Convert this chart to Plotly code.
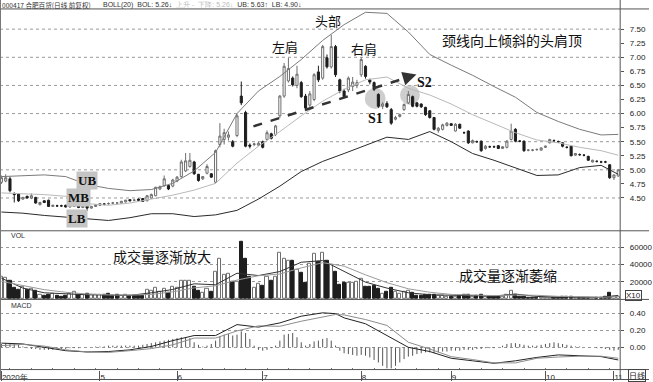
import plotly.graph_objects as go

W, H = 653, 382

# ---------------- data ----------------
MONTH_IDX = [0, 23, 41, 61, 84, 105, 127, 143]
MONTH_LABELS = ["2020年", "5", "6", "7", "8", "9", "10", "11"]

OPEN = [4.78, 4.80, 4.84, 4.58, 4.57, 4.48, 4.53, 4.50, 4.51, 4.38,
        4.45, 4.46, 4.35, 4.36, 4.36, 4.37, 4.34, 4.35, 4.40, 4.33,
        4.38, 4.32, 4.35, 4.37, 4.39, 4.40, 4.41, 4.41, 4.41, 4.43,
        4.47, 4.46, 4.48, 4.49, 4.45, 4.50, 4.54, 4.66, 4.72, 4.72,
        4.71, 4.80, 4.88, 4.98, 5.06, 5.14, 4.92, 4.84, 4.94, 4.93,
        4.78, 5.45, 5.54, 5.58, 5.50, 5.61, 6.31, 6.02, 5.44, 5.45,
        5.44, 5.50, 5.54, 5.64, 5.63, 5.96, 6.31, 6.58, 6.63, 6.50,
        6.55, 6.31, 6.15, 6.25, 6.74, 6.63, 6.99, 6.83, 7.19, 6.60,
        6.40, 6.42, 6.48, 6.50, 6.69, 6.84, 6.60, 6.55, 6.34, 6.13,
        6.18, 6.07, 5.90, 5.95, 6.07, 6.19, 6.30, 6.19, 6.17, 6.11,
        6.05, 5.93, 5.70, 5.72, 5.79, 5.82, 5.69, 5.81, 5.66, 5.69,
        5.48, 5.50, 5.51, 5.38, 5.41, 5.41, 5.43, 5.38, 5.40, 5.54,
        5.72, 5.51, 5.51, 5.35, 5.35, 5.36, 5.35, 5.40, 5.48, 5.52,
        5.50, 5.48, 5.40, 5.42, 5.26, 5.27, 5.26, 5.24, 5.14, 5.15,
        5.14, 5.14, 5.09, 4.86, 4.89]
HIGH = [4.90, 4.92, 4.88, 4.60, 4.58, 4.52, 4.54, 4.58, 4.52, 4.43,
        4.46, 4.47, 4.38, 4.38, 4.38, 4.38, 4.40, 4.41, 4.41, 4.38,
        4.39, 4.36, 4.39, 4.41, 4.41, 4.42, 4.43, 4.43, 4.45, 4.47,
        4.48, 4.48, 4.49, 4.50, 4.55, 4.58, 4.70, 4.72, 4.90, 4.73,
        4.84, 4.89, 5.18, 5.30, 5.30, 5.16, 4.93, 4.89, 5.10, 4.94,
        5.36, 5.83, 5.73, 5.68, 5.53, 6.00, 6.57, 6.05, 5.47, 5.48,
        5.50, 5.52, 5.70, 5.66, 5.80, 6.33, 6.90, 6.99, 6.66, 6.85,
        6.58, 6.35, 6.40, 6.72, 6.85, 7.22, 7.05, 7.40, 7.22, 6.62,
        6.44, 6.66, 6.65, 6.60, 7.00, 6.86, 6.62, 6.57, 6.36, 6.20,
        6.22, 6.10, 5.96, 6.00, 6.18, 6.40, 6.32, 6.20, 6.18, 6.12,
        6.06, 5.94, 5.76, 5.82, 5.85, 5.83, 5.83, 5.82, 5.68, 5.70,
        5.54, 5.52, 5.52, 5.44, 5.43, 5.43, 5.44, 5.42, 5.53, 5.82,
        5.74, 5.53, 5.52, 5.37, 5.37, 5.38, 5.40, 5.43, 5.55, 5.54,
        5.52, 5.49, 5.42, 5.43, 5.30, 5.29, 5.28, 5.25, 5.18, 5.17,
        5.16, 5.16, 5.10, 4.92, 5.01]
LOW = [4.75, 4.78, 4.60, 4.42, 4.43, 4.47, 4.49, 4.48, 4.40, 4.37,
       4.41, 4.34, 4.34, 4.34, 4.34, 4.33, 4.33, 4.34, 4.32, 4.32,
       4.27, 4.31, 4.34, 4.36, 4.37, 4.38, 4.39, 4.39, 4.40, 4.42,
       4.44, 4.44, 4.45, 4.43, 4.44, 4.49, 4.53, 4.64, 4.70, 4.64,
       4.69, 4.78, 4.86, 4.96, 5.04, 4.91, 4.79, 4.82, 4.92, 4.86,
       4.76, 5.40, 5.45, 5.52, 5.40, 5.58, 6.15, 5.40, 5.38, 5.42,
       5.42, 5.38, 5.52, 5.54, 5.60, 5.92, 6.28, 6.55, 6.48, 6.45,
       6.28, 6.08, 6.12, 6.22, 6.56, 6.60, 6.80, 6.80, 6.65, 6.36,
       6.27, 6.38, 6.40, 6.45, 6.65, 6.62, 6.52, 6.40, 6.10, 6.08,
       6.10, 5.80, 5.88, 5.93, 6.05, 6.17, 6.11, 6.11, 6.10, 5.96,
       5.91, 5.70, 5.66, 5.70, 5.77, 5.78, 5.68, 5.73, 5.64, 5.46,
       5.47, 5.48, 5.32, 5.36, 5.39, 5.39, 5.37, 5.37, 5.38, 5.52,
       5.49, 5.49, 5.32, 5.33, 5.33, 5.34, 5.34, 5.39, 5.47, 5.50,
       5.48, 5.40, 5.38, 5.24, 5.25, 5.25, 5.24, 5.16, 5.13, 5.13,
       5.12, 5.12, 4.84, 4.82, 4.88]
CLOSE = [4.86, 4.86, 4.63, 4.56, 4.45, 4.51, 4.50, 4.54, 4.41, 4.42,
         4.42, 4.35, 4.37, 4.36, 4.36, 4.34, 4.39, 4.40, 4.33, 4.37,
         4.32, 4.35, 4.38, 4.40, 4.39, 4.40, 4.41, 4.41, 4.44, 4.46,
         4.45, 4.46, 4.46, 4.44, 4.54, 4.56, 4.69, 4.70, 4.84, 4.66,
         4.82, 4.87, 5.14, 5.16, 5.17, 4.93, 4.81, 4.88, 5.06, 4.87,
         5.34, 5.60, 5.66, 5.62, 5.42, 5.96, 6.19, 5.42, 5.42, 5.46,
         5.47, 5.40, 5.66, 5.56, 5.78, 6.31, 6.84, 6.80, 6.51, 6.70,
         6.30, 6.10, 6.35, 6.69, 6.60, 7.19, 6.83, 7.19, 6.69, 6.40,
         6.30, 6.63, 6.56, 6.55, 6.96, 6.66, 6.56, 6.43, 6.13, 6.17,
         6.12, 5.83, 5.93, 5.98, 6.16, 6.34, 6.13, 6.13, 6.12, 5.98,
         5.93, 5.72, 5.74, 5.80, 5.83, 5.79, 5.81, 5.74, 5.66, 5.48,
         5.52, 5.50, 5.34, 5.42, 5.41, 5.41, 5.38, 5.41, 5.51, 5.69,
         5.51, 5.51, 5.34, 5.35, 5.35, 5.36, 5.39, 5.42, 5.54, 5.52,
         5.50, 5.42, 5.40, 5.25, 5.29, 5.27, 5.26, 5.17, 5.17, 5.15,
         5.14, 5.14, 4.86, 4.91, 5.00]
VOLUME = [25300, 24200, 21500, 13100, 10900, 13900, 11200, 12000, 9300, 5100,
          3600, 5500, 5900, 4400, 3200, 3600, 5900, 8600, 4800, 5100,
          5900, 5100, 5100, 5100, 5100, 5900, 4400, 5100, 4400, 5500,
          3600, 3600, 3600, 3600, 10900, 10100, 12800, 9000, 12000, 7400,
          14700, 12800, 20800, 20800, 21500, 13900, 9300, 7000, 12000, 9000,
          31000, 46300, 28400, 29100, 20400, 19600, 66500, 46300, 25300, 12800,
          17700, 15800, 25300, 21500, 25300, 53100, 47000, 44400, 44400, 34100,
          30300, 18500, 41300, 52000, 42500, 53100, 44400, 39400, 31800, 16600,
          18500, 18500, 18500, 20400, 23400, 14700, 13900, 15000, 12000, 6300,
          8200, 13100, 8200, 6300, 8200, 10100, 7000, 3600, 3600, 5100,
          5100, 5500, 4400, 4400, 3200, 2500, 3200, 4400, 5500, 5500,
          3200, 3600, 5100, 3200, 2500, 2900, 2500, 3200, 5100, 10100,
          5500, 3200, 3200, 2100, 2100, 1700, 2100, 1700, 2100, 1700,
          2100, 2500, 2500, 2500, 1700, 1700, 1300, 1700, 1300, 1300,
          1700, 2500, 7000, 3200, 3200]
MACD_HIST = [0.04, 0.05, 0.05, 0.04, 0.03, 0.01, -0.01, -0.02, -0.02, -0.03,
             -0.03, -0.03, -0.03, -0.02, -0.02, -0.02, -0.01, -0.01, -0.01, 0.00,
             0.00, 0.00, 0.01, 0.01, 0.01, 0.02, 0.02, 0.02, 0.02, 0.02,
             0.02, 0.02, 0.02, 0.03, 0.04, 0.05, 0.06, 0.07, 0.08, 0.09,
             0.10, 0.11, 0.12, 0.12, 0.11, 0.06, 0.03, 0.01, 0.02, 0.04,
             0.08, 0.13, 0.15, 0.16, 0.14, 0.15, 0.19, 0.17, 0.10, 0.02,
             -0.03, -0.04, -0.03, -0.01, 0.02, 0.08, 0.15, 0.16, 0.17, 0.12,
             0.06, 0.02, 0.04, 0.07, 0.08, 0.10, 0.11, 0.08, 0.02, -0.04,
             -0.07, -0.08, -0.09, -0.10, -0.09, -0.10, -0.12, -0.15, -0.18, -0.22,
             -0.25, -0.25, -0.22, -0.18, -0.14, -0.11, -0.10, -0.08, -0.07, -0.06,
             -0.06, -0.07, -0.06, -0.05, -0.05, -0.04, -0.04, -0.04, -0.03, -0.03,
             -0.03, -0.02, -0.02, -0.01, -0.01, -0.01, 0.00, 0.02, 0.04, 0.05,
             0.05, 0.04, 0.03, 0.02, 0.02, 0.02, 0.03, 0.04, 0.05, 0.06,
             0.05, 0.04, 0.03, 0.02, 0.01, 0.01, 0.00, 0.00, 0.00, -0.01,
             -0.01, -0.02, -0.03, -0.04, -0.03]

# Bollinger bands, volume moving averages (read every 5 sessions)
BAND_IDX = [0, 5, 10, 15, 20, 25, 30, 35, 40, 45, 50, 55, 60, 65, 70,
            75, 80, 85, 90, 95, 100, 105, 110, 115, 120, 125, 130, 135, 140, 144]
UB = [4.88, 4.90, 4.91, 4.88, 4.74, 4.67, 4.63, 4.65, 4.76, 4.98, 5.31, 6.00, 6.40, 6.66, 6.96,
      7.30, 7.58, 7.80, 7.78, 7.45, 7.05, 6.86, 6.68, 6.48, 6.29, 6.02, 5.86, 5.72, 5.62, 5.63]
MB = [4.59, 4.58, 4.56, 4.53, 4.40, 4.37, 4.41, 4.48, 4.55, 4.64, 4.76, 5.12, 5.42, 5.68, 5.96,
      6.22, 6.43, 6.60, 6.65, 6.45, 6.33, 6.17, 5.98, 5.82, 5.66, 5.53, 5.48, 5.40, 5.34, 5.26]
LB = [4.25, 4.23, 4.19, 4.16, 4.12, 4.10, 4.15, 4.22, 4.22, 4.17, 4.20, 4.28, 4.48, 4.71, 4.97,
      5.15, 5.29, 5.43, 5.58, 5.54, 5.68, 5.50, 5.29, 5.17, 5.03, 4.90, 4.91, 5.04, 5.08, 4.92]
VMA5 = [24200, 12800, 7400, 5900, 5100, 4800, 4400, 7400, 11200, 17700, 16600, 29900, 27200, 31800, 42500,
        44400, 31800, 19600, 12800, 7400, 5100, 4400, 4400, 3600, 5900, 3200, 2500, 2100, 2100, 4400]
VMA10 = [20500, 16000, 11000, 8000, 6000, 5000, 4800, 5500, 8500, 13000, 15500, 22000, 27000, 29000, 36000,
         42000, 38000, 28000, 19000, 12000, 8000, 5500, 4600, 4200, 4800, 4500, 3300, 2600, 2200, 2900]

MACD_IDX = [0, 5, 10, 15, 20, 25, 30, 35, 40, 45, 50, 55, 60, 65, 70, 75, 78, 80, 85, 90,
            93, 95, 100, 105, 110, 115, 120, 125, 130, 135, 140, 144]
DIF = [0.05, 0.04, 0.00, -0.04, -0.055, -0.05, -0.03, 0.01, 0.08, 0.14, 0.14, 0.27, 0.24, 0.29, 0.37,
       0.41, 0.40, 0.35, 0.28, 0.14, 0.05, 0.00, -0.05, -0.13, -0.16, -0.19, -0.16, -0.12, -0.09, -0.10,
       -0.11, -0.15]
DEA = [0.02, 0.035, 0.015, -0.03, -0.055, -0.06, -0.04, -0.015, 0.03, 0.11, 0.11, 0.195, 0.255, 0.25, 0.31,
       0.36, 0.39, 0.385, 0.33, 0.26, 0.14, 0.06, -0.02, -0.11, -0.145, -0.185, -0.185, -0.13, -0.115, -0.105,
       -0.105, -0.13]

PRICE_TICKS = [4.50, 4.75, 5.00, 5.25, 5.50, 5.75, 6.00, 6.25, 6.50, 6.75, 7.00, 7.25, 7.50]
PRICE_GRID = [4.5, 5.0, 5.5, 6.0, 6.5, 7.0, 7.5]
VOL_TICKS = [20000, 40000, 60000]
MACD_TICKS = [0.0, 0.2, 0.4]

N = len(CLOSE)
for arr in (OPEN, HIGH, LOW, VOLUME, MACD_HIST):
    assert len(arr) == N, len(arr)
IDX = list(range(N))

# ---------------- helpers (pixel -> paper) ----------------
def px(x):
    return x / W


def py(y):
    return 1 - y / H


PLOT_R = 624
TICKFONT = dict(family="Liberation Sans", size=8, color="#222")
CJK = "Noto Sans CJK SC"

fig = go.Figure()

# candles
fig.add_trace(go.Candlestick(
    x=IDX, open=OPEN, high=HIGH, low=LOW, close=CLOSE,
    increasing=dict(line=dict(color="#6e6e6e", width=1), fillcolor="#ffffff"),
    decreasing=dict(line=dict(color="#1e1e1e", width=1), fillcolor="#1e1e1e"),
    whiskerwidth=0, xaxis="x", yaxis="y", showlegend=False, hoverinfo="skip"))

# bollinger
for vals, col in ((UB, "#7a7a7a"), (MB, "#b9b9b9"), (LB, "#2a2a2a")):
    fig.add_trace(go.Scatter(x=BAND_IDX, y=vals, mode="lines",
                             line=dict(color=col, width=1), xaxis="x", yaxis="y",
                             showlegend=False, hoverinfo="skip"))

# volume
up = [c > o for o, c in zip(OPEN, CLOSE)]
fig.add_trace(go.Bar(
    x=IDX, y=VOLUME, width=0.72, xaxis="x", yaxis="y2",
    marker=dict(color=["#ffffff" if u else "#1e1e1e" for u in up],
                line=dict(color=["#6e6e6e" if u else "#1e1e1e" for u in up], width=1)),
    showlegend=False, hoverinfo="skip"))
for vals, col in ((VMA5, "#333333"), (VMA10, "#9a9a9a")):
    fig.add_trace(go.Scatter(x=BAND_IDX, y=vals, mode="lines",
                             line=dict(color=col, width=1), xaxis="x", yaxis="y2",
                             showlegend=False, hoverinfo="skip"))

# macd histogram as thin sticks
hx, hy = [], []
for i, v in zip(IDX, MACD_HIST):
    hx += [i, i, None]
    hy += [0, v, None]
fig.add_trace(go.Scatter(x=hx, y=hy, mode="lines", line=dict(color="#555", width=1),
                         xaxis="x", yaxis="y3", showlegend=False, hoverinfo="skip"))
for vals, col in ((DIF, "#222222"), (DEA, "#8c8c8c")):
    fig.add_trace(go.Scatter(x=MACD_IDX, y=vals, mode="lines",
                             line=dict(color=col, width=1), xaxis="x", yaxis="y3",
                             showlegend=False, hoverinfo="skip"))

# ---------------- shapes ----------------
shapes = []
for g in PRICE_GRID:
    shapes.append(dict(type="line", xref="x domain", yref="y", x0=0, x1=1, y0=g, y1=g,
                       line=dict(color="#9a9a9a", width=1, dash="dot"), layer="below"))
for yy in (9, 232, 301, 371.5, 381.5):
    shapes.append(dict(type="line", xref="paper", yref="paper", x0=0, x1=1,
                       y0=py(yy), y1=py(yy), line=dict(color="#555", width=1)))
shapes.append(dict(type="line", xref="paper", yref="paper", x0=px(PLOT_R), x1=px(PLOT_R),
                   y0=0, y1=1, line=dict(color="#555", width=1)))
shapes.append(dict(type="line", xref="paper", yref="paper", x0=px(0.5), x1=px(0.5),
                   y0=0, y1=1, line=dict(color="#777", width=1)))
# highlight circles
for cx, cy, r in ((377.5, 99, 10.5), (412.5, 95.5, 10)):
    shapes.append(dict(type="circle", xref="paper", yref="paper",
                       x0=px(cx - r), x1=px(cx + r), y0=py(cy + r), y1=py(cy - r),
                       fillcolor="rgba(190,190,190,0.75)", line=dict(width=0), layer="below"))
# dashed neckline
shapes.append(dict(type="line", xref="paper", yref="paper", x0=px(255), y0=py(127),
                   x1=px(411), y1=py(77.5), line=dict(color="#333", width=2.5, dash="dash")))

# ---------------- annotations ----------------
ann = []


def text(x, y, t, size, family=CJK, color="#111", anchor="center", **kw):
    ann.append(dict(x=px(x), y=py(y), xref="paper", yref="paper", text=t, showarrow=False,
                    xanchor=anchor, yanchor="middle", font=dict(size=size, family=family, color=color), **kw))


text(0, 5, "000417 合肥百货(日线 前复权)", 6.6, color="#333", anchor="left")
text(102, 5, "BOLL(20)  BOL: 5.26↓  <span style='color:#bbbbbb'>上升 -  下降: 5.26↓</span>  UB: 5.63↑  LB: 4.90↓",
     7, family="Liberation Sans", color="#333", anchor="left")
text(330, 21, "头部", 13)
text(287, 47, "左肩", 13)
text(366, 49, "右肩", 13)
text(515, 40, "颈线向上倾斜的头肩顶", 14)
text(378, 119, "<b>S1</b>", 14, family="Liberation Serif")
text(427, 83, "<b>S2</b>", 14, family="Liberation Serif")
for lab, x, y in (("UB", 87.5, 181.5), ("MB", 79, 199), ("LB", 77.5, 220)):
    text(x, y, "<b>%s</b>" % lab, 13, family="Liberation Serif", bgcolor="#c4c4c4", borderpad=1)
text(163, 257, "成交量逐渐放大", 14)
text(511, 276, "成交量逐渐萎缩", 14)
text(9, 237, "VOL", 7, family="Liberation Sans", color="#333", anchor="left")
text(9, 307, "MACD", 7, family="Liberation Sans", color="#333", anchor="left")
text(629, 297, "X10", 8, family="Liberation Sans", color="#222", anchor="left",
     bordercolor="#444", borderwidth=1, borderpad=0)
text(641, 377, "日线", 8, color="#222", bordercolor="#444", borderwidth=1, borderpad=0)
# arrow head of the neckline
ann.append(dict(x=px(419), y=py(75), xref="paper", yref="paper", ax=-10, ay=3, text="",
                showarrow=True, arrowhead=2, arrowsize=1.1, arrowwidth=2.5, arrowcolor="#333"))

# ---------------- layout ----------------
dom_price = [py(232), py(9)]
dom_vol = [py(301), py(232)]
dom_macd = [py(371.5), py(301)]


def yfmt(vals, fmt):
    return [fmt.format(v) for v in vals]


fig.update_layout(
    width=W, height=H, margin=dict(l=0, r=0, t=0, b=0),
    paper_bgcolor="white", plot_bgcolor="rgba(0,0,0,0)",
    showlegend=False, bargap=0,
    xaxis=dict(domain=[0, px(PLOT_R)], range=[-0.33, 144.45], anchor="y3",
               tickvals=MONTH_IDX, ticktext=MONTH_LABELS, ticks="outside", ticklen=10,
               tickcolor="#555", ticklabelposition="outside right", tickfont=TICKFONT,
               showgrid=False, zeroline=False, showline=False,
               rangeslider=dict(visible=False), fixedrange=True,
               minor=dict(dtick=5, tick0=2, ticks="inside", ticklen=2, tickcolor="#777")),
    yaxis=dict(domain=dom_price, range=[3.917, 7.859], side="right", anchor="x",
               tickvals=PRICE_TICKS, ticktext=yfmt(PRICE_TICKS, "{:.2f}"),
               ticks="outside", ticklen=3, tickcolor="#555", ticklabelstandoff=4,
               tickfont=TICKFONT, showgrid=False, zeroline=False, showline=False),
    yaxis2=dict(domain=dom_vol, range=[-230, 78640], side="right", anchor="x",
                tickvals=VOL_TICKS, ticktext=yfmt(VOL_TICKS, "{:d}"),
                ticks="outside", ticklen=3, tickcolor="#555", ticklabelstandoff=4,
                tickfont=TICKFONT, showgrid=True, gridcolor="#9a9a9a", griddash="dot",
                gridwidth=1, zeroline=False, showline=False),
    yaxis3=dict(domain=dom_macd, range=[-0.264, 0.569], side="right", anchor="x",
                tickvals=MACD_TICKS, ticktext=yfmt(MACD_TICKS, "{:.2f}"),
                ticks="outside", ticklen=3, tickcolor="#555", ticklabelstandoff=4,
                tickfont=TICKFONT, showgrid=True, gridcolor="#9a9a9a", griddash="dot",
                gridwidth=1, zeroline=False, showline=False),
    shapes=shapes, annotations=ann,
)

fig.write_html("out.html")
